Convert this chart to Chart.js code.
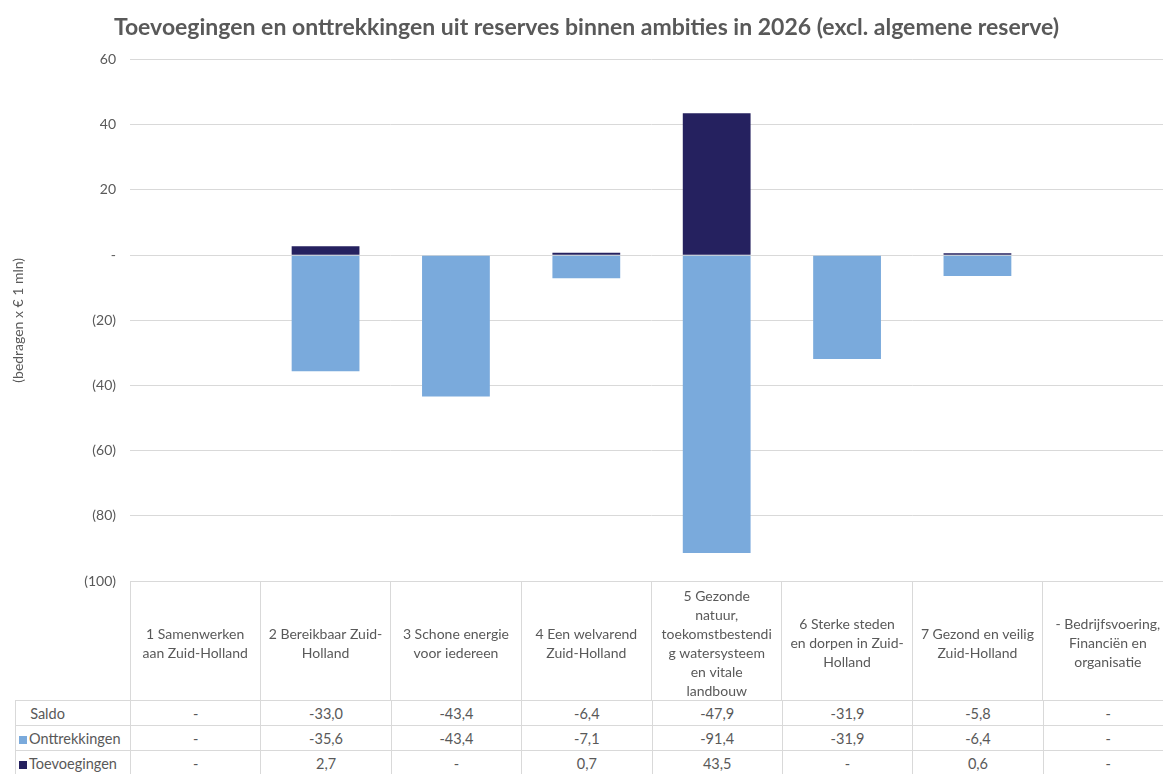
<!DOCTYPE html>
<html>
<head>
  <title>Toevoegingen en onttrekkingen uit reserves</title>
  <script src="https://cdn.jsdelivr.net/npm/chart.js"></script>
  <style>
    body { margin: 0; background: #fff; font-family: Lato, sans-serif; overflow: hidden; }
    #wrap { position: relative; width: 1163px; height: 774px; overflow: hidden; }
    #chart { position: absolute; left: 0; top: 0; }
    #dataTable {
      position: absolute; left: 15px; top: 700px; width: 1158px;
      border-collapse: collapse; table-layout: fixed;
      font-size: 14.5px; color: #595959;
    }
    #dataTable td {
      border: 1px solid #d9d9d9; height: 24px; padding: 0;
      text-align: center; white-space: nowrap;
    }
    #dataTable td.lbl { text-align: left; padding-left: 3px; }
    .sw { display: inline-block; width: 8px; height: 8px; margin-right: 2px; }
  </style>
</head>
<body>
<div id="wrap">
  <canvas id="chart" width="1173" height="700"></canvas>
  <table id="dataTable"></table>
</div>
<script>
  // categories (line breaks as in the original)
  const categories = [
    ['1 Samenwerken', 'aan Zuid-Holland'],
    ['2 Bereikbaar Zuid-', 'Holland'],
    ['3 Schone energie', 'voor iedereen'],
    ['4 Een welvarend', 'Zuid-Holland'],
    ['5 Gezonde', 'natuur,', 'toekomstbestendi', 'g watersysteem', 'en vitale', 'landbouw'],
    ['6 Sterke steden', 'en dorpen in Zuid-', 'Holland'],
    ['7 Gezond en veilig', 'Zuid-Holland'],
    ['- Bedrijfsvoering,', 'Financiën en', 'organisatie']
  ];
  const saldo = [0, -33.0, -43.4, -6.4, -47.9, -31.9, -5.8, 0];
  const onttrekkingen = [0, -35.6, -43.4, -7.1, -91.4, -31.9, -6.4, 0];
  const toevoegingen = [0, 2.7, 0, 0.7, 43.5, 0, 0.6, 0];

  const lightBlue = '#7aaadc';
  const navy = '#25215f';
  const grey = '#595959';
  const gridColor = '#d9d9d9';

  const fmt = v => v === 0 ? '-' : v.toFixed(1).replace('.', ',');

  // data table under the chart, columns lined up with the x categories
  const table = document.getElementById('dataTable');
  const colW = (1173 - 130) / categories.length;
  let html = '<colgroup><col style="width:115px">';
  categories.forEach(() => { html += '<col style="width:' + colW + 'px">'; });
  html += '</colgroup>';
  const rows = [
    ['Saldo', saldo, null],
    ['Onttrekkingen', onttrekkingen, lightBlue],
    ['Toevoegingen', toevoegingen, navy]
  ];
  rows.forEach(r => {
    html += '<tr><td class="lbl">' +
      (r[2] ? '<span class="sw" style="background:' + r[2] + '"></span>' : '&nbsp;&nbsp;&nbsp;') +
      r[0] + '</td>';
    r[1].forEach(v => { html += '<td>' + fmt(v) + '</td>'; });
    html += '</tr>';
  });
  table.innerHTML = html;

  new Chart(document.getElementById('chart'), {
    type: 'bar',
    data: {
      labels: categories,
      datasets: [
        { label: 'Onttrekkingen', data: onttrekkingen, backgroundColor: lightBlue },
        { label: 'Toevoegingen', data: toevoegingen, backgroundColor: navy }
      ]
    },
    options: {
      responsive: false,
      animation: false,
      layout: { padding: 0 },
      categoryPercentage: 1,
      barPercentage: 0.52,
      plugins: {
        legend: { display: false },
        tooltip: { enabled: false },
        title: {
          display: true,
          text: 'Toevoegingen en onttrekkingen uit reserves binnen ambities in 2026 (excl. algemene reserve)',
          color: grey,
          font: { family: 'Lato', size: 23, weight: 'bold', lineHeight: 1.2 },
          padding: { top: 14, bottom: 18 }
        }
      },
      scales: {
        x: {
          stacked: true,
          border: { display: false },
          grid: {
            offset: true,
            drawOnChartArea: false,
            drawTicks: true,
            tickLength: 119,   // vertical lines of the header row
            color: gridColor
          },
          ticks: {
            color: grey,
            font: { family: 'Lato', size: 14, lineHeight: 1.36 },
            maxRotation: 0,
            autoSkip: false,
            crossAlign: 'center',
            padding: -104
          },
          afterFit: s => { s.height = 119; }
        },
        y: {
          stacked: true,
          min: -100,
          max: 60,
          border: { display: false },
          grid: { color: gridColor, drawTicks: false },
          ticks: {
            stepSize: 20,
            color: grey,
            padding: 14,
            font: { family: 'Lato', size: 14 },
            callback: v => v === 0 ? '-' : (v < 0 ? '(' + (-v) + ')' : v)
          },
          title: {
            display: true,
            text: '(bedragen x € 1 mln)',
            color: grey,
            font: { family: 'Lato', size: 14 },
            padding: { top: 10 }
          },
          afterFit: s => { s.width = 130; }
        }
      }
    }
  });
</script>
</body>
</html>
